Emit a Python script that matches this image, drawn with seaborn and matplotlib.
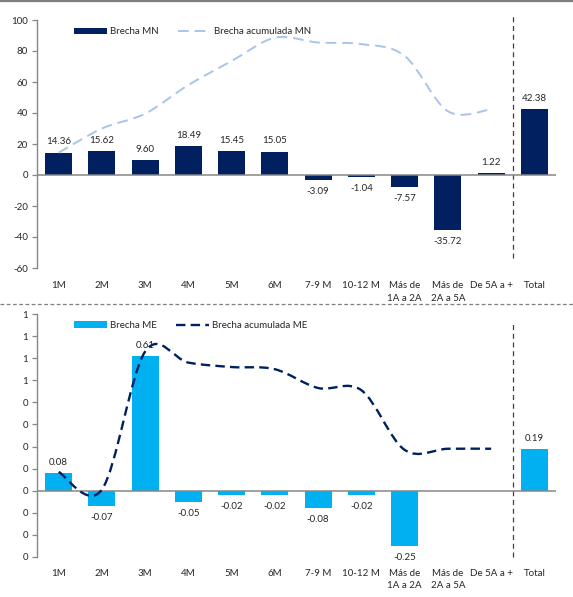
import numpy as np
import pandas as pd
import matplotlib
matplotlib.use("Agg")
import matplotlib.pyplot as plt
import seaborn as sns
from matplotlib.path import Path
from matplotlib.patches import PathPatch, Patch
from matplotlib.lines import Line2D

# ---------------- data ----------------
categories = ["1M", "2M", "3M", "4M", "5M", "6M", "7-9 M", "10-12 M",
              "Más de\n1A a 2A", "Más de\n2A a 5A", "De 5A a +", "Total"]
brecha_mn = [14.36, 15.62, 9.60, 18.49, 15.45, 15.05, -3.09, -1.04, -7.57, -35.72, 1.22, 42.38]
acum_mn = [14.36, 29.98, 39.58, 58.07, 73.52, 88.57, 85.48, 84.44, 76.87, 41.15, 42.37]
brecha_me = [0.08, -0.07, 0.61, -0.05, -0.02, -0.02, -0.08, -0.02, -0.25, np.nan, np.nan, 0.19]
acum_me = [0.085, 0.005, 0.63, 0.58, 0.56, 0.55, 0.465, 0.455, 0.185, 0.19, 0.19]
mn_ticks = [-60, -40, -20, 0, 20, 40, 60, 80, 100]
me_ticks = [-0.3, -0.2, -0.1, 0.0, 0.1, 0.2, 0.3, 0.4, 0.5, 0.6, 0.7, 0.8]

# ---------------- style ----------------
sns.set_style("white")
plt.rcParams["font.family"] = ["Lato", "DejaVu Sans"]
TXT = "#262626"
GRID = "#868686"
NAVY = "#002060"
CYAN = "#00B0F0"
LIGHT = "#A9C4EB"

W, H = 573, 597
fig = plt.figure(figsize=(W / 100, H / 100), dpi=100)


def fx(px):
    return px / W


def fy(py):
    return 1 - py / H


def smooth_path(xs, ys):
    pts = np.column_stack([xs, ys]).astype(float)
    n = len(pts)
    verts = [pts[0]]
    codes = [Path.MOVETO]
    for i in range(n - 1):
        p0 = pts[i - 1] if i > 0 else pts[i]
        p1 = pts[i]
        p2 = pts[i + 1]
        p3 = pts[i + 2] if i + 2 < n else pts[i + 1]
        c1 = p1 + (p2 - p0) / 6.0
        c2 = p2 - (p3 - p1) / 6.0
        verts += [c1, c2, p2]
        codes += [Path.CURVE4] * 3
    return Path(verts, codes)


def panel(ax, bars, cum, bar_color, line_color, line_dash, line_lw,
          ticks, ylim, fmt_tick, bar_label, line_label, xpad, vline_rng):
    df = pd.DataFrame({"cat": categories, "val": bars})
    sns.barplot(data=df, x="cat", y="val", order=categories, color=bar_color,
                width=0.62, saturation=1, ax=ax, edgecolor="none")
    ax.set_xlim(-0.5, len(categories) - 0.5)
    ax.set_ylim(*ylim)
    ax.set_yticks(ticks)
    ax.set_yticklabels([fmt_tick(t) for t in ticks])
    ax.set_xlabel("")
    ax.set_ylabel("")
    for s in ["top", "right", "bottom"]:
        ax.spines[s].set_visible(False)
    ax.spines["left"].set_color(GRID)
    ax.spines["left"].set_linewidth(1.0)
    ax.tick_params(axis="y", left=True, length=3.5, width=0.9, color=GRID,
                   labelsize=7, labelcolor=TXT, pad=3)
    ax.tick_params(axis="x", bottom=False, labelsize=7, labelcolor=TXT, pad=xpad)
    for lbl in ax.get_xticklabels():
        lbl.set_linespacing(1.5)
    ax.axhline(0, color=GRID, lw=1.1, zorder=3)

    # smoothed cumulative line
    path = smooth_path(np.arange(len(cum)), cum)
    ax.add_patch(PathPatch(path, facecolor="none", edgecolor=line_color, lw=line_lw,
                           linestyle=line_dash, zorder=4, capstyle="butt"))

    # data labels
    for i, v in enumerate(bars):
        if v is None or np.isnan(v):
            continue
        if v >= 0:
            ax.annotate(f"{v:.2f}", (i, v), xytext=(0, 4.5), textcoords="offset points",
                        ha="center", va="bottom", fontsize=7, color=TXT, zorder=5)
        else:
            ax.annotate(f"{v:.2f}", (i, v), xytext=(0, -5), textcoords="offset points",
                        ha="center", va="top", fontsize=7, color=TXT, zorder=5)

    # vertical dashed separator before Total
    ax.axvline(len(categories) - 1.5, ymin=vline_rng[0], ymax=vline_rng[1],
               color="#404040", lw=0.9, linestyle=(0, (4, 3)), clip_on=False, zorder=2)

    handles = [Patch(facecolor=bar_color, edgecolor="none"),
               Line2D([0], [0], color=line_color, lw=line_lw, linestyle=line_dash)]
    ax.legend(handles, [bar_label, line_label], ncol=2, frameon=False,
              loc="upper left", bbox_to_anchor=(0.071, 0.97), fontsize=7,
              handlelength=3.4, handletextpad=0.3, columnspacing=2.0,
              borderpad=0, borderaxespad=0, labelcolor=TXT)


# top panel
ax1 = fig.add_axes([fx(37), fy(268), fx(556 - 37), fy(20) - fy(268)])
panel(ax1, brecha_mn, acum_mn, NAVY, LIGHT, (0, (5.5, 3)), 1.4,
      mn_ticks, (-60, 100), lambda t: f"{int(t)}", "Brecha MN", "Brecha acumulada MN",
      6.0, (0.04, 1.02))

# bottom panel
def fmt_me(t):
    return f"{int(np.floor(t + 0.5 + 1e-9))}" if t >= 0 else "0"

ax2 = fig.add_axes([fx(37), fy(557), fx(556 - 37), fy(314) - fy(557)])
panel(ax2, brecha_me, acum_me, CYAN, NAVY, (0, (4, 2.2)), 1.7,
      me_ticks, (-0.3, 0.8), fmt_me, "Brecha ME", "Brecha acumulada ME",
      5.0, (0.0, 0.963))

# frame lines
fig.add_artist(Line2D([0, 1], [fy(1), fy(1)], transform=fig.transFigure,
                      color="#7f7f7f", lw=1.6))
fig.add_artist(Line2D([0, 1], [fy(304), fy(304)], transform=fig.transFigure,
                      color="#7f7f7f", lw=0.9, linestyle=(0, (3, 2))))

fig.savefig("out.png", dpi=100)
